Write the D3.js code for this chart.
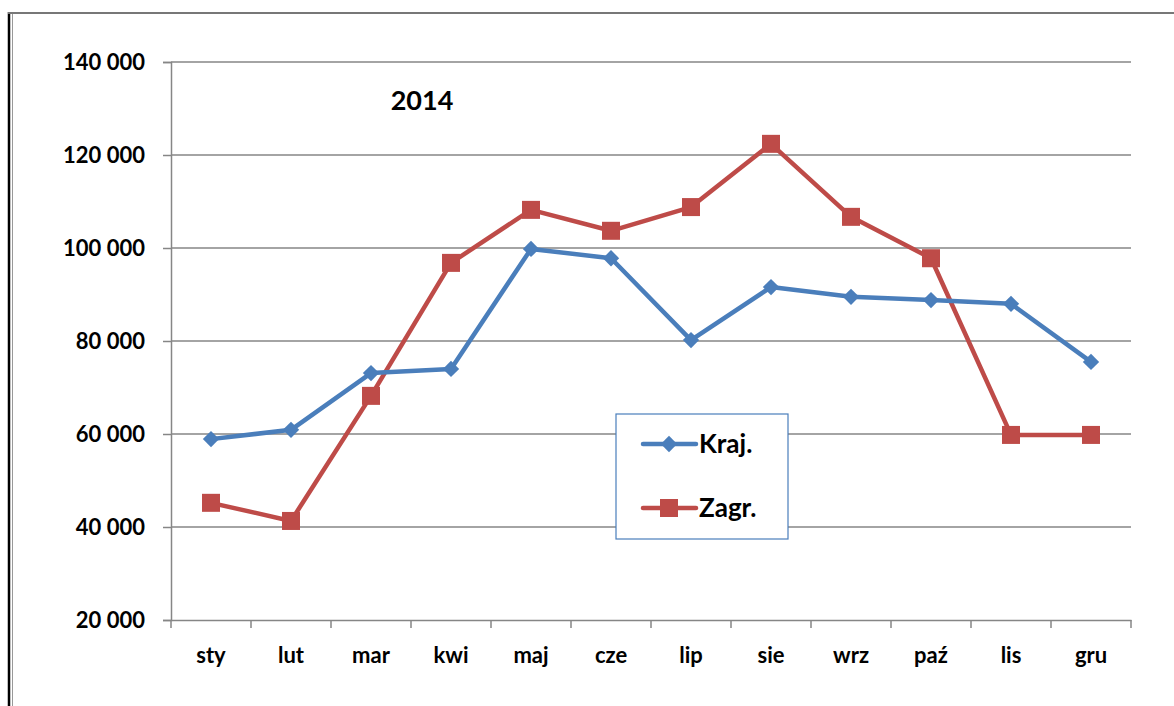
<!DOCTYPE html>
<html><head><meta charset="utf-8">
<script src="https://cdn.jsdelivr.net/npm/d3@7"></script>
<style>body{margin:0;background:#fff}svg{display:block}</style>
</head><body><svg id="c" width="1174" height="706"></svg>
<script>
const categories = ["sty","lut","mar","kwi","maj","cze","lip","sie","wrz","paź","lis","gru"];
const kraj  = [58900, 60900, 73100, 74000, 99800, 97800, 80200, 91600, 89500, 88800, 88000, 75500];
const zagr  = [45200, 41300, 68200, 96800, 108200, 103700, 108800, 122400, 106700, 97800, 59800, 59800];
const yTicks = [20000, 40000, 60000, 80000, 100000, 120000, 140000];
const seriesNames = ["Kraj.", "Zagr."];
const title = "2014";

const svg = d3.select("#c");
const font = "Lato, 'Open Sans', sans-serif";
const blue = "#4A7EBB", red = "#BE4B48", grid = "#868686";
const L = 171, R = 1131, T = 62, B = 620;

// outer frame
svg.append("line").attr("x1",9).attr("x2",9).attr("y1",12).attr("y2",706).attr("stroke","#000").attr("stroke-width",2.5);
svg.append("line").attr("x1",12.5).attr("x2",12.5).attr("y1",13).attr("y2",706).attr("stroke","#999").attr("stroke-width",1);
svg.append("line").attr("x1",8).attr("x2",1174).attr("y1",13).attr("y2",13).attr("stroke","#777").attr("stroke-width",2);

const x = d3.scaleBand().domain(categories).range([L, R]);
const y = d3.scaleLinear().domain([20000, 140000]).range([B, T]);

// gridlines
svg.append("g").selectAll("line").data(yTicks.slice(1)).join("line")
  .attr("x1", L).attr("x2", R).attr("y1", d => y(d)).attr("y2", d => y(d))
  .attr("stroke", grid).attr("stroke-width", 1.5);

const fmt = d => d3.format(",")(d).replace(/,/g, " ");
// y axis
const ya = svg.append("g").attr("transform", `translate(${L},0)`)
  .call(d3.axisLeft(y).tickValues(yTicks).tickFormat(fmt).tickSize(8).tickPadding(18));
ya.select(".domain").attr("stroke", grid).attr("stroke-width", 1.5);
ya.selectAll(".tick line").attr("stroke", grid).attr("stroke-width", 1.5);
ya.selectAll("text").attr("font-family", font).attr("font-weight", "bold").attr("font-size", 22).attr("fill", "#000");

// x axis
const xa = svg.append("g").attr("transform", `translate(0,${B})`)
  .call(d3.axisBottom(x).tickSize(0).tickPadding(27));
xa.select(".domain").attr("stroke", grid).attr("stroke-width", 1.5);
xa.selectAll("text").attr("font-family", font).attr("font-weight", "bold").attr("font-size", 22).attr("fill", "#000");
xa.selectAll(".tick line").remove();
const bounds = categories.map(c => x(c)).concat([R]);
xa.selectAll("line.tk").data(bounds).join("line").attr("class","tk")
  .attr("x1", d => d).attr("x2", d => d).attr("y1", 0).attr("y2", 8)
  .attr("stroke", grid).attr("stroke-width", 1.5);

const cx = c => x(c) + x.bandwidth() / 2;
const line = d3.line().x((d, i) => cx(categories[i])).y(d => y(d));

// lines
svg.append("path").datum(zagr).attr("d", line).attr("fill","none").attr("stroke",red).attr("stroke-width",4.5).attr("stroke-linejoin","round");
svg.append("path").datum(kraj).attr("d", line).attr("fill","none").attr("stroke",blue).attr("stroke-width",4.5).attr("stroke-linejoin","round");

// markers
svg.append("g").selectAll("rect").data(zagr).join("rect")
  .attr("x", (d, i) => cx(categories[i]) - 9).attr("y", d => y(d) - 9)
  .attr("width", 18).attr("height", 18).attr("fill", red);
const diamond = d3.symbol().type(d3.symbolDiamond2).size(170);
svg.append("g").selectAll("path").data(kraj).join("path")
  .attr("transform", (d, i) => `translate(${cx(categories[i])},${y(d)})`)
  .attr("d", diamond).attr("fill", blue);

// title
svg.append("text").attr("x", 422).attr("y", 110).attr("text-anchor","middle")
  .attr("font-family", font).attr("font-weight","bold").attr("font-size", 27).text(title);

// legend
const lg = svg.append("g");
lg.append("rect").attr("x", 616).attr("y", 414).attr("width", 172).attr("height", 125)
  .attr("fill", "#fff").attr("stroke", blue).attr("stroke-width", 1.2);
const legItems = [{name: seriesNames[0], color: blue, y: 444, m: "d"}, {name: seriesNames[1], color: red, y: 508, m: "s"}];
legItems.forEach(it => {
  lg.append("line").attr("x1", 643).attr("x2", 696).attr("y1", it.y).attr("y2", it.y)
    .attr("stroke", it.color).attr("stroke-width", 4.5).attr("stroke-linecap", "round");
  if (it.m === "d") lg.append("path").attr("transform", `translate(669,${it.y})`).attr("d", diamond).attr("fill", it.color);
  else lg.append("rect").attr("x", 660).attr("y", it.y - 9).attr("width", 18).attr("height", 18).attr("fill", it.color);
  lg.append("text").attr("x", 699).attr("y", it.y + 9).attr("font-family", font).attr("font-weight","bold")
    .attr("font-size", 26).text(it.name);
});
</script></body></html>
